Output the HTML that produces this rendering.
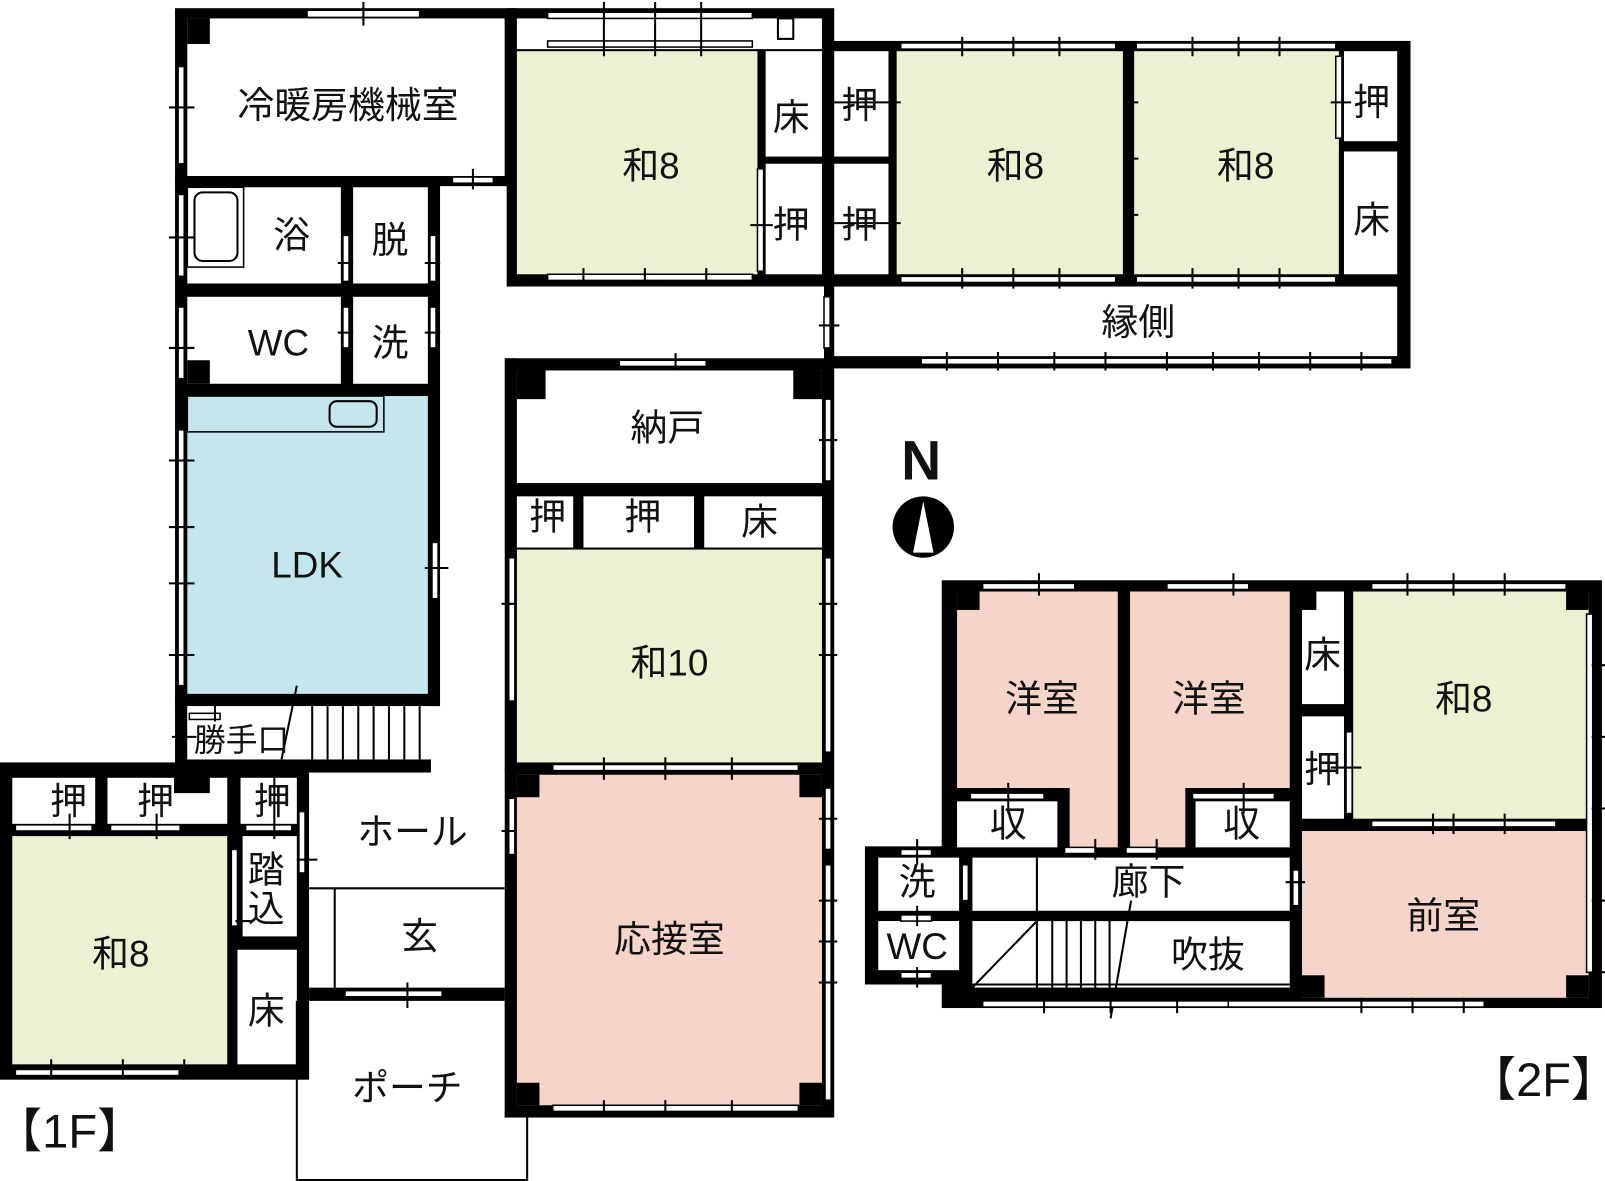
<!DOCTYPE html>
<html><head><meta charset="utf-8"><style>
html,body{margin:0;padding:0;background:#fff;}
svg{display:block}
text{font-family:"Liberation Sans","Noto Sans CJK JP",sans-serif;font-size:36px;fill:#111;text-anchor:middle;dominant-baseline:central}
.w{fill:#fff;stroke:#000;stroke-width:1.5}
.t{stroke:#000;stroke-width:2}
</style></head><body>
<svg width="1605" height="1181" viewBox="0 0 1568 1154" preserveAspectRatio="none" xmlns="http://www.w3.org/2000/svg">
<g fill="#000">
<rect x="171" y="8" width="334" height="174"/>
<rect x="171" y="172" width="259" height="518"/>
<rect x="171" y="680" width="12" height="70"/>
<rect x="495" y="8" width="320" height="272"/>
<rect x="805" y="40" width="573" height="320"/>
<rect x="493" y="350" width="322" height="742"/>
<rect x="0" y="745" width="302" height="310"/>
<rect x="171" y="742" width="250" height="13"/>
<rect x="302" y="965" width="191" height="13"/>
<rect x="920" y="567" width="645" height="418"/>
<rect x="845" y="827" width="105" height="135"/>
</g>
<g fill="#fff">
<rect x="183" y="18" width="310" height="154"/>
<rect x="505" y="18" width="298" height="30"/>
<rect x="183" y="183" width="150" height="94"/>
<rect x="345" y="183" width="73" height="94"/>
<rect x="183" y="290" width="150" height="85"/>
<rect x="345" y="290" width="73" height="85"/>
<rect x="430" y="182" width="63" height="568"/>
<rect x="505" y="280" width="300" height="70"/>
<rect x="183" y="690" width="237" height="52"/>
<rect x="748" y="50" width="55" height="103"/>
<rect x="748" y="160" width="55" height="108"/>
<rect x="815" y="50" width="53" height="103"/>
<rect x="815" y="160" width="53" height="108"/>
<rect x="1313" y="50" width="52" height="88"/>
<rect x="1313" y="148" width="52" height="120"/>
<rect x="815" y="280" width="550" height="68"/>
<rect x="505" y="362" width="298" height="110"/>
<rect x="505" y="485" width="55" height="50"/>
<rect x="570" y="485" width="108" height="50"/>
<rect x="688" y="485" width="115" height="50"/>
<rect x="12" y="760" width="81" height="45"/>
<rect x="105" y="760" width="117" height="45"/>
<rect x="235" y="760" width="55" height="45"/>
<rect x="237" y="817" width="53" height="98"/>
<rect x="232" y="928" width="58" height="112"/>
<rect x="302" y="755" width="191" height="210"/>
<rect x="935" y="783" width="98" height="45"/>
<rect x="1168" y="783" width="92" height="45"/>
<rect x="1272" y="578" width="41" height="110"/>
<rect x="1272" y="700" width="41" height="100"/>
<rect x="950" y="838" width="310" height="52"/>
<rect x="950" y="900" width="310" height="65"/>
<rect x="858" y="838" width="79" height="52"/>
<rect x="858" y="900" width="79" height="48"/>
</g>
<rect x="505" y="50" width="235" height="218" fill="#ebf2d2"/>
<rect x="876" y="50" width="221" height="218" fill="#ebf2d2"/>
<rect x="1108" y="50" width="200" height="218" fill="#ebf2d2"/>
<rect x="183" y="387" width="235" height="291" fill="#c6e6ee"/>
<rect x="505" y="537" width="298" height="208" fill="#ebf2d2"/>
<path d="M505 757H803V1080H505Z" fill="#f5d4ca"/>
<rect x="12" y="817" width="210" height="223" fill="#ebf2d2"/>
<path d="M935 578H1092V828H1045V770H935Z" fill="#f5d4ca"/>
<path d="M1104 578H1260V770H1158V828H1104Z" fill="#f5d4ca"/>
<rect x="1322" y="578" width="230" height="222" fill="#ebf2d2"/>
<rect x="1272" y="812" width="280" height="163" fill="#f5d4ca"/>
<g fill="#000">
<rect x="505" y="757" width="22" height="22"/><rect x="781" y="757" width="22" height="22"/>
<rect x="505" y="1058" width="22" height="22"/><rect x="781" y="1058" width="22" height="22"/>
<rect x="505" y="362" width="28" height="28"/><rect x="775" y="362" width="28" height="28"/>
<rect x="183" y="18" width="22" height="25"/><rect x="183" y="352" width="22" height="23"/>
<rect x="935" y="578" width="22" height="18"/><rect x="1530" y="578" width="22" height="18"/>
<rect x="1272" y="953" width="22" height="22"/><rect x="1530" y="953" width="22" height="22"/>
<rect x="170" y="755" width="35" height="20"/>
<rect x="1268" y="578" width="18" height="18"/>
</g>
<g stroke="#000" stroke-width="2" fill="none">
<path d="M290 978V1153H515V1092"/>
<path d="M302 868H493M327 868V965"/>
<rect x="183" y="183" width="55" height="78" stroke-width="1.5"/>
<rect x="190" y="188" width="42" height="67" rx="8"/>
<rect x="183" y="387" width="192" height="35" stroke-width="1.5"/>
<rect x="322" y="392" width="46" height="25" rx="7"/>
<path d="M290 670L275 742"/>
<path d="M305 690V742M320 690V742M335 690V742M350 690V742M365 690V742M380 690V742M395 690V742M410 690V742"/>
<path d="M1013 838V965M950 965L1013 900M1013 895H1260"/>
<path d="M1028 900V965M1042 900V965M1056 900V965M1070 900V965M1084 900V965"/>
<path d="M1105 880L1085 995"/>
<path d="M950 962H1260"/>
<rect x="760" y="18" width="15" height="20" fill="#fff"/>
</g>
<rect x="1013" y="890" width="247" height="10" fill="#000"/>
<g class="w">
<rect x="300" y="10" width="110" height="7"/>
<rect x="535" y="12" width="200" height="6"/><rect x="535" y="40" width="200" height="6"/>
<rect x="535" y="268" width="200" height="6"/>
<rect x="880" y="42" width="210" height="6"/><rect x="1110" y="42" width="195" height="6"/>
<rect x="880" y="270" width="210" height="6"/><rect x="1110" y="270" width="195" height="6"/>
<rect x="900" y="350" width="460" height="6"/>
<rect x="174" y="65" width="6" height="95"/><rect x="174" y="190" width="6" height="80"/>
<rect x="174" y="300" width="6" height="70"/><rect x="174" y="420" width="6" height="250"/>
<rect x="442" y="173" width="40" height="6"/>
<rect x="335" y="230" width="6" height="45"/><rect x="420" y="230" width="6" height="45"/>
<rect x="335" y="300" width="6" height="40"/><rect x="420" y="300" width="6" height="40"/>
<rect x="422" y="530" width="6" height="55"/>
<rect x="740" y="165" width="6" height="100"/>
<rect x="1305" y="55" width="6" height="80"/>
<rect x="805" y="290" width="6" height="50"/>
<rect x="605" y="352" width="85" height="6"/>
<rect x="806" y="390" width="6" height="80"/>
<rect x="497" y="545" width="6" height="140"/>
<rect x="806" y="545" width="6" height="190"/>
<rect x="540" y="747" width="240" height="6"/>
<rect x="806" y="770" width="6" height="60"/><rect x="806" y="845" width="6" height="230"/>
<rect x="497" y="780" width="6" height="55"/>
<rect x="540" y="1080" width="240" height="6"/>
<rect x="185" y="697" width="30" height="6"/>
<rect x="15" y="1045" width="160" height="6"/>
<rect x="15" y="806" width="75" height="6"/><rect x="108" y="806" width="68" height="6"/>
<rect x="240" y="806" width="45" height="6"/>
<rect x="292" y="793" width="6" height="60"/>
<rect x="226" y="830" width="6" height="75"/>
<rect x="337" y="968" width="95" height="6"/>
<rect x="960" y="570" width="90" height="6"/><rect x="1140" y="570" width="80" height="6"/>
<rect x="1340" y="570" width="190" height="6"/>
<rect x="1340" y="802" width="180" height="6"/>
<rect x="1315" y="715" width="6" height="80"/>
<rect x="948" y="775" width="72" height="6"/><rect x="1165" y="775" width="80" height="6"/>
<rect x="1550" y="600" width="6" height="350"/>
<rect x="960" y="978" width="290" height="6"/>
<rect x="1200" y="978" width="250" height="6"/>
<rect x="1040" y="828" width="30" height="6"/><rect x="1100" y="828" width="30" height="6"/>
<rect x="1263" y="850" width="6" height="35"/>
<rect x="940" y="845" width="6" height="35"/>
<rect x="880" y="830" width="30" height="6"/><rect x="880" y="894" width="30" height="6"/><rect x="880" y="950" width="30" height="6"/>
</g>
<g class="t">
<path d="M355 2V25M590 2V55M640 2V55M685 2V55M570 262V280M630 262V280M690 262V280"/>
<path d="M940 36V55M990 36V55M1035 36V55M1165 36V55M1210 36V55M1250 36V55"/>
<path d="M940 262V282M990 262V282M1035 262V282M1165 262V282M1210 262V282M1250 262V282"/>
<path d="M925 344V362M975 344V362M1030 344V362M1080 344V362M1140 344V362M1185 344V362M1230 344V362M1280 344V362M1330 344V362"/>
<path d="M165 105H190M165 232H190M165 340H190M165 450H190M165 515H190M165 570H190M165 640H190M415 555H438"/>
<path d="M330 257H345M330 325H345M415 257H430M415 325H430M462 165V185M733 220H755M1300 100H1320M810 100H880M810 218H880M1097 100H1112M1097 210H1112M800 318H820M1100 155H1112"/>
<path d="M660 345V362M800 430H818M490 590H505M800 590H818M800 640H818M590 740V762M650 740V762M715 740V762M490 812H505M800 800H818M800 880H818M800 920H818M800 960H818M590 1075V1092M650 1075V1092M715 1075V1092"/>
<path d="M168 720H192M210 680V705M50 1035V1055M120 1035V1055M180 1035V1055M68 795V820M153 795V820M268 755V820M290 840H310M230 900H245M398 960V985"/>
<path d="M1015 560V582M1205 560V582M1375 560V582M1420 560V582M1470 560V582M1400 795V815M1420 795V815M1470 795V815M1300 750H1330M1555 650H1570M1555 720H1570M1555 790H1570M1555 880H1570M1555 950H1570"/>
<path d="M985 765V795M1215 765V795M1070 820V840M1130 820V840M1256 862H1275M896 820V845M896 885V905M896 945V965"/>
<path d="M1020 975V990M1085 975V990M1150 975V990M1330 975V990M1380 975V990M1430 975V990"/>
</g>
<text x="340" y="103">冷暖房機械室</text>
<text x="636" y="162">和8</text>
<text x="992" y="162">和8</text>
<text x="1217" y="162">和8</text>
<text x="773" y="115">床</text><text x="773" y="220">押</text>
<text x="840" y="103">押</text><text x="840" y="220">押</text>
<text x="1340" y="100">押</text><text x="1340" y="215">床</text>
<text x="1112" y="315">縁側</text>
<text x="285" y="230">浴</text><text x="381" y="235">脱</text>
<text x="272" y="335">WC</text><text x="381" y="335">洗</text>
<text x="300" y="552">LDK</text>
<text x="652" y="418">納戸</text>
<text x="535" y="505">押</text><text x="628" y="505">押</text><text x="742" y="510">床</text>
<text x="654" y="648">和10</text>
<text x="236" y="723" style="font-size:31px">勝手口</text>
<text x="67" y="783">押</text><text x="152" y="783">押</text><text x="266" y="783">押</text>
<text x="260" y="850">踏</text><text x="260" y="888">込</text>
<text x="118" y="932">和8</text><text x="260" y="988">床</text>
<text x="403" y="813">ホール</text>
<text x="410" y="915">玄</text>
<text x="398" y="1063">ポーチ</text>
<text x="654" y="918">応接室</text>
<text x="68" y="1105" style="font-size:46px">【1F】</text>
<text x="1508" y="1055" style="font-size:46px">【2F】</text>
<text x="900" y="450" style="font-size:54px;font-weight:bold">N</text>
<circle cx="902" cy="515" r="30" fill="#000"/>
<path d="M902 490L912 540H892Z" fill="#fff"/>
<text x="1018" y="683">洋室</text><text x="1181" y="683">洋室</text>
<text x="1430" y="683">和8</text>
<text x="1292" y="640">床</text><text x="1292" y="752">押</text>
<text x="985" y="805">収</text><text x="1213" y="805">収</text>
<text x="1122" y="862">廊下</text>
<text x="1180" y="933">吹抜</text>
<text x="1410" y="895">前室</text>
<text x="896" y="862">洗</text><text x="896" y="925">WC</text>
</svg>
</body></html>
